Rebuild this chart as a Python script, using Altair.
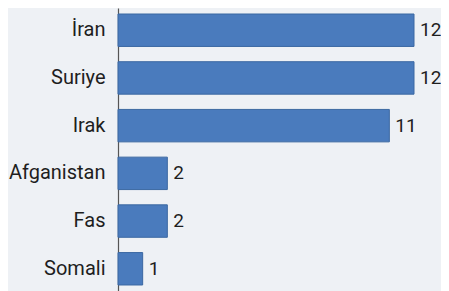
import altair as alt
import pandas as pd

countries = ["İran", "Suriye", "Irak", "Afganistan", "Fas", "Somali"]
values = [12, 12, 11, 2, 2, 1]

df = pd.DataFrame({"country": countries, "value": values})

y = alt.Y("country:N", sort=countries, title=None,
          scale=alt.Scale(paddingInner=0.32, paddingOuter=0.126),
          axis=alt.Axis(domainColor="#555555", domainWidth=1.2, ticks=False,
                        labelPadding=13, labelFontSize=20, labelColor="#1e1e1e",
                        labelFont="Roboto", grid=False))
x = alt.X("value:Q", title=None, scale=alt.Scale(domain=[0, 12], nice=False),
          axis=None)

bars = alt.Chart(df).mark_bar(color="#4a7bbd", stroke="#3b68a2", strokeWidth=1).encode(x=x, y=y)
labels = alt.Chart(df).mark_text(align="left", baseline="middle", dx=6,
                                 fontSize=19, font="Roboto", color="#1e1e1e").encode(
    x=x, y=y, text="value:Q")

chart = (bars + labels).properties(
    width=296, height=283,
    autosize=alt.AutoSizeParams(type="none"),
    padding={"left": 110, "top": 0, "right": 27, "bottom": 0},
    background="#eef1f5",
).configure_view(stroke=None)

chart.save("out.html", embed_options={"renderer": "svg", "actions": False})
